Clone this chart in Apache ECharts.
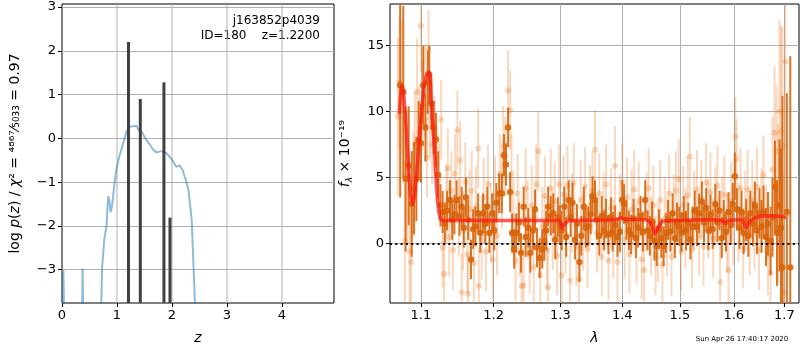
<!DOCTYPE html>
<html>
<head>
<meta charset="utf-8">
<script src="https://cdn.jsdelivr.net/npm/echarts@6/dist/echarts.min.js"></script>
<style>
html, body { margin: 0; padding: 0; background: #fff; }
#chart { width: 800px; height: 350px; }
</style>
</head>
<body>
<div id="chart"></div>
<script>
// left panel: log p(z) curve and the template redshift spikes
var pzCurve = [
    [0.01, -5], [0.025, -3.0], [0.05, -5], [0.355, -5], [0.375, -2.97], [0.395, -5],
    [0.69, -5], [0.73, -2.94], [0.77, -2.3], [0.81, -2.0], [0.84, -1.32], [0.86, -1.4],
    [0.885, -1.69], [0.91, -1.55], [0.95, -1.09], [0.99, -0.71], [1.036, -0.45], [1.07, -0.42],
    [1.115, -0.1], [1.176, 0.16], [1.236, 0.27], [1.30, 0.28], [1.358, 0.29], [1.39, 0.19],
    [1.449, 0.16], [1.51, 0.01], [1.57, -0.09], [1.66, -0.26], [1.72, -0.32], [1.81, -0.29],
    [1.90, -0.34], [1.96, -0.42], [2.02, -0.52], [2.05, -0.56], [2.08, -0.65], [2.14, -0.62],
    [2.19, -0.71], [2.25, -0.94], [2.30, -1.17], [2.36, -1.85], [2.42, -3.76], [2.43, -5]
];
var spikeZ = [1.21, 1.425, 1.855, 1.965];
var spikeVal = [2.2, 0.9, 1.28, -1.81];
var pzMin = -3.76;
var pzMax = 3.07;

// right panel: binned spectrum [lambda, flux, err]
var specBinned = [
    [1.073, 12.0, 8.5], [1.077, 11.5, 6.5], [1.080, 4.9, 5.5], [1.084, 5.9, 4.5], [1.088, 3.0, 4.0],
    [1.091, 4.2, 3.5], [1.094, 4.9, 3.2], [1.097, 7.8, 3.0], [1.100, 7.6, 3.0], [1.103, 12.0, 3.0],
    [1.106, 8.8, 2.6], [1.109, 12.2, 2.4], [1.111, 12.8, 2.2], [1.114, 10.6, 2.0], [1.117, 8.8, 2.0],
    [1.120, 7.9, 2.0], [1.123, 5.2, 1.8], [1.126, 2.9, 1.6], [1.129, 2.4, 1.6], [1.132, 1.5, 1.6],
    [1.135, 2.5, 1.5], [1.139, 3.3, 1.5], [1.142, 1.8, 1.5], [1.145, 2.2, 1.5], [1.148, 3.3, 1.5],
    [1.152, 2.1, 1.5], [1.155, 2.8, 1.5], [1.158, 1.2, 1.5], [1.161, 3.5, 1.5], [1.164, 1.8, 1.5],
    [1.168, -1.2, 1.5], [1.171, 1.1, 1.5], [1.174, 1.3, 1.5], [1.178, 2.3, 1.5], [1.181, 0.8, 1.5],
    [1.185, 2.3, 1.5], [1.188, 1.5, 1.5], [1.191, 2.8, 1.5], [1.194, 0.8, 1.5], [1.198, 2.3, 1.5],
    [1.201, 1.0, 1.5], [1.204, 3.1, 1.5], [1.208, 3.8, 1.5], [1.212, 3.8, 1.5], [1.215, 6.7, 1.6],
    [1.218, 6.0, 1.6], [1.221, 8.8, 1.5], [1.224, 3.9, 1.5], [1.227, 0.8, 1.5], [1.230, -0.4, 1.5],
    [1.233, 0.8, 1.5], [1.237, 1.6, 1.5], [1.240, -0.7, 1.5], [1.244, 2.8, 1.5], [1.247, 0.5, 1.5],
    [1.251, 1.2, 1.5], [1.254, -0.7, 1.5], [1.258, 1.0, 1.5], [1.261, 2.6, 1.5], [1.264, -0.3, 1.5],
    [1.268, -1.1, 1.5], [1.272, -0.4, 1.5], [1.275, 0.2, 1.5], [1.278, 1.0, 1.5], [1.281, 2.8, 1.5],
    [1.285, 2.1, 1.5], [1.289, 2.3, 1.5], [1.292, 0.3, 1.5], [1.296, 2.0, 1.5], [1.299, 1.4, 1.5],
    [1.302, 1.0, 1.5], [1.306, 2.8, 1.5], [1.309, 0.5, 1.5], [1.313, 3.3, 1.5], [1.316, 2.0, 1.5],
    [1.319, 3.1, 1.5], [1.323, 0.3, 1.5], [1.326, 1.5, 1.5], [1.330, -1.4, 1.5], [1.333, 0.6, 1.5],
    [1.337, 2.8, 1.5], [1.340, 1.2, 1.5], [1.344, 1.3, 1.5], [1.348, 2.2, 1.5], [1.351, 3.6, 1.5],
    [1.355, 3.3, 1.5], [1.358, 1.8, 1.5], [1.362, 0.6, 1.5], [1.366, 2.1, 1.5], [1.370, 1.0, 1.5],
    [1.373, 1.9, 1.5], [1.377, 0.7, 1.5], [1.381, 2.0, 1.5], [1.384, 0.9, 1.5], [1.388, 1.4, 1.5],
    [1.392, 0.5, 1.5], [1.396, 0.9, 1.5], [1.400, 3.3, 1.5], [1.403, 3.0, 1.5], [1.407, 1.8, 1.5],
    [1.411, 1.0, 1.5], [1.415, 0.7, 1.5], [1.419, 1.9, 1.5], [1.423, 0.4, 1.5], [1.427, 1.2, 1.5],
    [1.431, 2.1, 1.5], [1.435, 0.9, 1.5], [1.439, 3.3, 1.5], [1.443, 1.0, 1.5], [1.447, 0.6, 1.5],
    [1.451, 1.7, 1.5], [1.455, 0.2, 1.5], [1.459, -0.2, 1.5], [1.463, 1.1, 1.5], [1.467, 0.4, 1.5],
    [1.471, -0.2, 1.5], [1.475, 0.8, 1.5], [1.479, 1.8, 1.5], [1.483, 0.9, 1.5], [1.487, 2.3, 1.5],
    [1.491, 0.4, 1.5], [1.495, 1.6, 1.5], [1.499, 1.3, 1.5], [1.503, 0.9, 1.5], [1.507, 2.1, 1.5],
    [1.511, 1.0, 1.5], [1.515, 1.6, 1.5], [1.519, 0.3, 1.5], [1.523, 1.3, 1.5], [1.527, 2.5, 1.5],
    [1.531, 1.3, 1.5], [1.535, 2.3, 1.5], [1.540, 3.2, 1.5], [1.544, 1.6, 1.5], [1.548, 2.7, 1.5],
    [1.552, 1.0, 1.5], [1.556, 2.2, 1.5], [1.560, 1.1, 1.5], [1.565, 3.0, 1.5], [1.569, 1.6, 1.5],
    [1.573, 2.5, 1.5], [1.577, 0.4, 1.5], [1.581, 1.8, 1.5], [1.585, 0.9, 1.5], [1.590, 2.4, 1.5],
    [1.594, 1.4, 1.5], [1.598, 3.0, 1.6], [1.602, 5.1, 1.8], [1.606, 2.6, 1.6], [1.611, 1.2, 1.6],
    [1.615, 2.4, 1.6], [1.619, 0.8, 1.6], [1.624, 1.8, 1.6], [1.628, 0.6, 1.6], [1.632, 2.3, 1.7],
    [1.637, 1.5, 1.7], [1.641, 2.9, 1.8], [1.645, 1.0, 1.8], [1.650, 2.3, 1.9], [1.654, 1.3, 2.0],
    [1.658, 2.4, 2.0], [1.663, 0.5, 2.2], [1.667, 1.5, 2.4], [1.672, 0.2, 2.6], [1.676, 2.0, 3.0],
    [1.681, 4.3, 3.5], [1.685, 0.8, 4.0], [1.690, 2.9, 5.0], [1.693, 1.2, 6.0], [1.696, -1.8, 13],
    [1.705, 2.4, 9], [1.712, -1.8, 16]
];

// right panel: unbinned spectrum [lambda, flux, err]
var specRaw = [
    [1.070, 9.6, 6], [1.072, 12.2, 5], [1.075, 11.8, 5], [1.079, 0.2, 6], [1.082, 5.0, 5],
    [1.085, -0.6, 5], [1.087, -1.4, 5], [1.090, 4.5, 4], [1.092, 7.5, 4], [1.095, 11.5, 4],
    [1.098, 8.5, 3.5], [1.100, 16.5, 3.5], [1.102, 10.5, 3.5], [1.105, 11.6, 3.5], [1.108, 6.5, 3],
    [1.110, 14.7, 3], [1.112, 9.5, 3], [1.115, 7.5, 3], [1.118, 8.2, 3], [1.121, 6.0, 3],
    [1.124, 4.8, 3], [1.127, 9.4, 3], [1.129, -0.3, 3], [1.131, -2.3, 3], [1.134, 3.0, 3],
    [1.136, 5.7, 3], [1.138, 0.5, 3], [1.141, 4.0, 3], [1.143, -0.5, 3], [1.146, 5.3, 3],
    [1.149, 8.6, 3], [1.151, 2.0, 3], [1.153, 6.3, 3], [1.155, -3.7, 3], [1.157, 1.0, 3],
    [1.160, 4.7, 3], [1.163, -0.8, 3], [1.164, -3.8, 3], [1.166, 2.6, 3], [1.169, 4.0, 3],
    [1.172, -1.5, 3], [1.175, 2.8, 3], [1.178, 7.2, 3], [1.179, -3.2, 3], [1.183, 0.3, 3],
    [1.186, 3.5, 3], [1.189, -0.6, 3], [1.192, 4.5, 3], [1.196, 1.6, 3], [1.199, -1.2, 3],
    [1.202, 3.6, 3], [1.205, 0.6, 3], [1.209, 5.3, 3], [1.212, 4.1, 3], [1.214, 7.4, 3],
    [1.217, 6.6, 3], [1.221, 11.6, 3], [1.224, 10.1, 3], [1.226, 5.3, 3], [1.229, 2.0, 3],
    [1.232, -1.3, 3], [1.235, 3.8, 3], [1.238, 0.5, 3], [1.241, -3.2, 3], [1.244, -3.2, 3],
    [1.247, 4.2, 3], [1.250, 1.8, 3], [1.253, -0.8, 3], [1.256, 2.9, 3], [1.259, -1.8, 3],
    [1.263, 4.5, 3], [1.266, 7.0, 3], [1.269, -2.4, 3], [1.272, 1.3, 3], [1.276, 3.6, 3],
    [1.279, -0.5, 3], [1.281, -3.3, 3], [1.285, 4.2, 3], [1.288, 1.0, 3], [1.291, 3.2, 3],
    [1.295, -0.9, 3], [1.298, 4.5, 3], [1.302, -2.4, 3], [1.305, 3.7, 3], [1.308, 0.7, 3],
    [1.311, 4.4, 3], [1.315, -2.8, 3], [1.318, 2.3, 3], [1.321, 4.6, 3], [1.325, -0.2, 3],
    [1.329, -2.7, 3], [1.332, 3.3, 3], [1.336, 1.0, 3], [1.339, 4.3, 3], [1.343, -0.4, 3],
    [1.347, 2.9, 3], [1.351, 4.0, 3], [1.355, 7.1, 3], [1.358, 0.8, 3], [1.362, 3.8, 3],
    [1.366, -1.0, 3], [1.369, 2.4, 3], [1.373, 4.5, 3], [1.377, -1.3, 3], [1.381, 2.7, 3],
    [1.385, 0.4, 3], [1.388, 5.9, 3], [1.392, -1.4, 3], [1.396, 2.2, 3], [1.400, 4.6, 3],
    [1.404, 0.3, 3], [1.408, 3.5, 3], [1.412, -0.8, 3], [1.416, 2.6, 3], [1.420, 4.1, 3],
    [1.424, 0.0, 3], [1.428, 3.2, 3], [1.433, -1.2, 3], [1.437, -2.0, 3], [1.441, 2.4, 3],
    [1.445, 4.2, 3], [1.449, 0.6, 3], [1.453, 2.9, 3], [1.457, -0.9, 3], [1.461, 0.1, 3],
    [1.465, 3.3, 3], [1.469, -1.6, 3], [1.473, 1.9, 3], [1.477, 0.5, 3], [1.481, 3.8, 3],
    [1.485, -1.0, 3], [1.489, 2.2, 3], [1.493, 4.0, 3], [1.498, 4.9, 3], [1.502, -0.6, 3],
    [1.506, 2.9, 3], [1.510, 1.2, 3], [1.514, 3.6, 3], [1.518, 6.6, 3], [1.522, -0.4, 3],
    [1.526, 2.5, 3], [1.531, 4.1, 3], [1.535, 0.6, 3], [1.539, 3.3, 3], [1.543, -0.2, 3],
    [1.548, 4.6, 3], [1.552, 1.9, 3], [1.556, 3.9, 3], [1.561, 0.4, 3], [1.565, 2.8, 3],
    [1.569, 4.4, 3], [1.574, -2.9, 3], [1.578, 2.1, 3], [1.582, 3.7, 3], [1.587, 0.8, 3],
    [1.590, -2.0, 3], [1.595, 3.2, 3], [1.599, 1.4, 3], [1.603, 8.1, 3], [1.605, 6.4, 3],
    [1.609, 1.6, 3], [1.613, 4.2, 3], [1.618, -0.4, 3], [1.622, 2.5, 3], [1.627, 4.1, 3],
    [1.631, 0.6, 3], [1.636, 3.3, 3], [1.640, 1.0, 3], [1.645, 4.3, 3], [1.649, -0.5, 3],
    [1.654, 2.7, 3], [1.658, 5.2, 3], [1.663, 1.4, 3], [1.667, -0.9, 3], [1.672, -2.2, 3.5],
    [1.676, 5.6, 4], [1.680, 8.4, 5], [1.684, 7.0, 5], [1.687, 3.0, 6], [1.690, 10.0, 7],
    [1.693, 8.5, 8], [1.696, 7.4, 9], [1.698, -3.7, 9], [1.702, 13.8, 12]
];

// best-fit template
var modelCurve = [
    [1.072, 9.8], [1.075, 12.0], [1.078, 11.0], [1.083, 6.5], [1.086, 4.0], [1.089, 3.0],
    [1.092, 3.8], [1.096, 6.5], [1.100, 9.5], [1.104, 11.8], [1.108, 12.9], [1.111, 13.0],
    [1.114, 10.5], [1.117, 8.0], [1.120, 5.0], [1.123, 2.8], [1.126, 1.9], [1.130, 1.75],
    [1.200, 1.75], [1.298, 1.75], [1.303, 1.15], [1.308, 1.55], [1.315, 1.75], [1.390, 1.8],
    [1.398, 1.95], [1.405, 1.85], [1.440, 1.8], [1.450, 1.45], [1.456, 0.75], [1.462, 1.3],
    [1.470, 1.7], [1.500, 1.75], [1.550, 1.8], [1.578, 1.75], [1.583, 1.5], [1.590, 1.75],
    [1.615, 1.8], [1.620, 1.5], [1.624, 1.2], [1.630, 1.65], [1.645, 2.0], [1.670, 2.1],
    [1.703, 2.0]
];

var zTicks = [0, 1, 2, 3, 4];
var pzTicks = [-3, -2, -1, 0, 1, 2, 3];
var lamTicks = [1.1, 1.2, 1.3, 1.4, 1.5, 1.6, 1.7];
var fluxTicks = [0, 5, 10, 15];

var font = 'DejaVu Sans';
var chart = echarts.init(document.getElementById('chart'));

var minus = function(v) { return String(v).replace('-', '\u2212'); };

var errRender = function(color, alpha, r) {
    return function(params, api) {
        var x = api.value(0), y = api.value(1), e = api.value(2);
        var top = api.coord([x, y + e]);
        var bot = api.coord([x, y - e]);
        var c = api.coord([x, y]);
        var cs = params.coordSys;
        var box = { x: cs.x, y: cs.y, width: cs.width, height: cs.height };
        var kids = [];
        var rect = echarts.graphic.clipRectByRect(
            { x: c[0] - 1, y: top[1], width: 2, height: bot[1] - top[1] }, box);
        if (rect) {
            kids.push({ type: 'rect', shape: rect, style: { fill: color, opacity: alpha } });
        }
        if (c[0] >= cs.x && c[0] <= cs.x + cs.width && c[1] >= cs.y && c[1] <= cs.y + cs.height) {
            kids.push({ type: 'circle', shape: { cx: c[0], cy: c[1], r: r }, style: { fill: color, opacity: alpha } });
        }
        return { type: 'group', children: kids };
    };
};

var axisCommon = {
    axisLine: { show: false, onZero: false },
    axisTick: { show: true, length: 4, lineStyle: { color: '#000' } },
    axisLabel: { color: '#000', fontSize: 13, fontFamily: font, margin: 6 },
    splitLine: { show: true, lineStyle: { color: '#b0b0b0', width: 1 } }
};

var option = {
    animation: false,
    grid: [
        { left: 62, top: 4, width: 272, height: 300, show: true, borderColor: '#000', borderWidth: 1 },
        { left: 390, top: 4, width: 409, height: 300, show: true, borderColor: '#000', borderWidth: 1 }
    ],
    xAxis: [
        Object.assign({}, axisCommon, {
            type: 'value', gridIndex: 0, min: 0, max: 4.95,
            name: 'z', nameLocation: 'middle', nameGap: 28,
            nameTextStyle: { fontSize: 14, fontStyle: 'italic', fontFamily: font, color: '#000' },
            splitLine: { show: false },
            axisTick: Object.assign({}, axisCommon.axisTick, { customValues: zTicks }),
            axisLabel: Object.assign({}, axisCommon.axisLabel, { customValues: zTicks })
        }),
        Object.assign({}, axisCommon, {
            type: 'log', logBase: 10, gridIndex: 1, min: 1.06, max: 1.73,
            name: 'λ', nameLocation: 'middle', nameGap: 28,
            nameTextStyle: { fontSize: 14, fontStyle: 'italic', fontFamily: font, color: '#000' },
            axisTick: Object.assign({}, axisCommon.axisTick, { customValues: lamTicks }),
            axisLabel: Object.assign({}, axisCommon.axisLabel, {
                customValues: lamTicks,
                formatter: function(v) { return Number(v).toFixed(1); }
            })
        })
    ],
    yAxis: [
        Object.assign({}, axisCommon, {
            type: 'value', gridIndex: 0, min: pzMin, max: pzMax,
            name: '{t|log }{i|p}{t|(}{i|z}{t|) / }{i|χ}{t|² = ⁴⁸⁶⁷⁄₅₀₃₃ = 0.97}',
            nameLocation: 'middle', nameGap: 40, nameRotate: 90,
            nameTextStyle: {
                color: '#000', fontFamily: font,
                rich: {
                    t: { fontSize: 14, fontFamily: font, color: '#000' },
                    i: { fontSize: 14, fontFamily: font, fontStyle: 'italic', color: '#000' }
                }
            },
            axisTick: Object.assign({}, axisCommon.axisTick, { customValues: pzTicks }),
            axisLabel: Object.assign({}, axisCommon.axisLabel, { customValues: pzTicks, formatter: minus })
        }),
        Object.assign({}, axisCommon, {
            type: 'value', gridIndex: 1, min: -4.5, max: 18.15,
            name: '{i|f}{s|λ}{t| × 10⁻¹⁹}',
            nameLocation: 'middle', nameGap: 36, nameRotate: 90,
            nameTextStyle: {
                color: '#000', fontFamily: font,
                rich: {
                    t: { fontSize: 14, fontFamily: font, color: '#000', lineHeight: 18 },
                    i: { fontSize: 14, fontFamily: font, fontStyle: 'italic', color: '#000', lineHeight: 18 },
                    s: { fontSize: 9, fontFamily: font, fontStyle: 'italic', color: '#000', verticalAlign: 'bottom', lineHeight: 18 }
                }
            },
            axisTick: Object.assign({}, axisCommon.axisTick, { customValues: fluxTicks }),
            axisLabel: Object.assign({}, axisCommon.axisLabel, { customValues: fluxTicks })
        })
    ],
    graphic: [
        { type: 'text', x: 320, y: 21, style: { text: 'j163852p4039', align: 'right', verticalAlign: 'middle', fontSize: 12, fontFamily: font, fill: '#000' } },
        { type: 'text', x: 320, y: 36, style: { text: 'ID=180    z=1.2200', align: 'right', verticalAlign: 'middle', fontSize: 12, fontFamily: font, fill: '#000' } },
        { type: 'text', x: 742, y: 339, style: { text: 'Sun Apr 26 17:40:17 2020', align: 'center', verticalAlign: 'middle', fontSize: 7, fontFamily: font, fill: '#000' } }
    ],
    series: [
        {
            // vertical grid lines of the z axis, drawn as thin rects spanning the axis range
            type: 'custom', xAxisIndex: 0, yAxisIndex: 0, z: 1, clip: false,
            data: zTicks.slice(1).map(function(v) { return [v, pzMax]; }),
            encode: { x: 0, y: 1 },
            renderItem: function(params, api) {
                var top = api.coord([api.value(0), pzMax]);
                var bot = api.coord([api.value(0), pzMin]);
                return {
                    type: 'rect', silent: true,
                    shape: { x: Math.round(top[0]) - 0.5, y: top[1], width: 1, height: bot[1] - top[1] },
                    style: { fill: '#b0b0b0' }
                };
            }
        },
        {
            type: 'line', xAxisIndex: 0, yAxisIndex: 0, data: pzCurve, z: 2,
            showSymbol: false, clip: true,
            lineStyle: { color: 'rgba(31,119,180,0.5)', width: 2 }
        },
        {
            type: 'custom', xAxisIndex: 0, yAxisIndex: 0, z: 3,
            data: spikeZ.map(function(z, i) { return [z, spikeVal[i]]; }),
            encode: { x: 0, y: 1 },
            renderItem: function(params, api) {
                var top = api.coord([api.value(0), api.value(1)]);
                var bot = api.coord([api.value(0), pzMin]);
                return { type: 'rect', shape: { x: top[0] - 1.5, y: top[1], width: 3, height: bot[1] - top[1] }, style: { fill: '#404040' } };
            }
        },
        {
            type: 'custom', xAxisIndex: 1, yAxisIndex: 1, data: specRaw,
            encode: { x: 0, y: 1 }, z: 2,
            renderItem: errRender('#e8731a', 0.28, 3)
        },
        {
            type: 'custom', xAxisIndex: 1, yAxisIndex: 1, data: specBinned,
            encode: { x: 0, y: 1 }, z: 3,
            renderItem: errRender('#d8650c', 0.9, 3.2)
        },
        {
            type: 'line', xAxisIndex: 1, yAxisIndex: 1, data: modelCurve, z: 4,
            showSymbol: false, smooth: 0.3,
            lineStyle: { color: 'rgba(255,20,20,0.7)', width: 3.5 },
            markLine: {
                silent: true, symbol: 'none', z: 5,
                label: { show: false },
                lineStyle: { color: '#000', width: 2, type: [2, 3.3] },
                data: [{ yAxis: 0 }]
            }
        }
    ]
};

chart.setOption(option);
</script>
</body>
</html>
